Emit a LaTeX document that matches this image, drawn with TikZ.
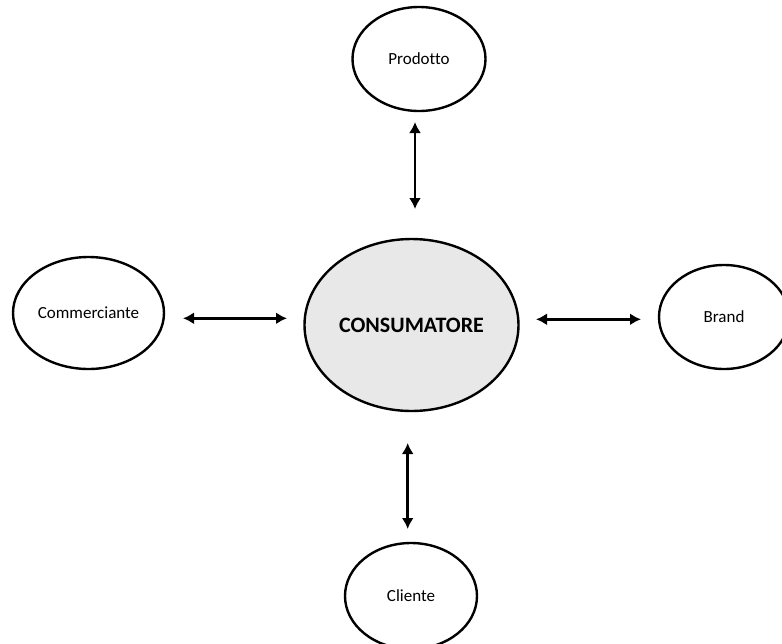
\documentclass[tikz,border=0pt]{standalone}
\usepackage{fontspec}
\setmainfont[Ligatures=NoCommon]{Carlito}
\usetikzlibrary{shapes.geometric,arrows.meta}
\begin{document}
\begin{tikzpicture}[x=1pt,y=1pt,
  oval/.style={draw=black, line width=2.4pt, ellipse, inner sep=0pt, fill=white, font=\fontsize{17}{20}\selectfont},
  link/.style={line width=2.8pt, {Latex[length=11pt,width=12pt]}-{Latex[length=11pt,width=12pt]}}]
\useasboundingbox (0,0) rectangle (782,-643);
\clip (0,0) rectangle (782,-643);
\node[oval, minimum width=133pt, minimum height=104pt] (prod) at (419,-59) {Prodotto};
\node[oval, minimum width=151pt, minimum height=112pt] (comm) at (88.5,-313) {Commerciante};
\node[oval, minimum width=130pt, minimum height=104pt] (brand) at (724,-317) {Brand};
\node[oval, minimum width=132pt, minimum height=106pt] (cli) at (411,-596) {Cliente};
\node[oval, fill=gray!18, minimum width=214pt, minimum height=172pt, font=\fontsize{22}{26}\selectfont\bfseries] (cons) at (411.5,-325) {CONSUMATORE};
\coordinate (t1) at (415,-122); \coordinate (t2) at (415,-209);
\coordinate (l1) at (183,-318.3); \coordinate (l2) at (287,-318.3);
\coordinate (r1) at (536,-319.3); \coordinate (r2) at (641,-319.3);
\coordinate (b1) at (407.7,-443); \coordinate (b2) at (407.7,-529);
\draw[link] (t1) -- (t2);
\draw[link] (l1) -- (l2);
\draw[link] (r1) -- (r2);
\draw[link] (b1) -- (b2);
\end{tikzpicture}
\end{document}
